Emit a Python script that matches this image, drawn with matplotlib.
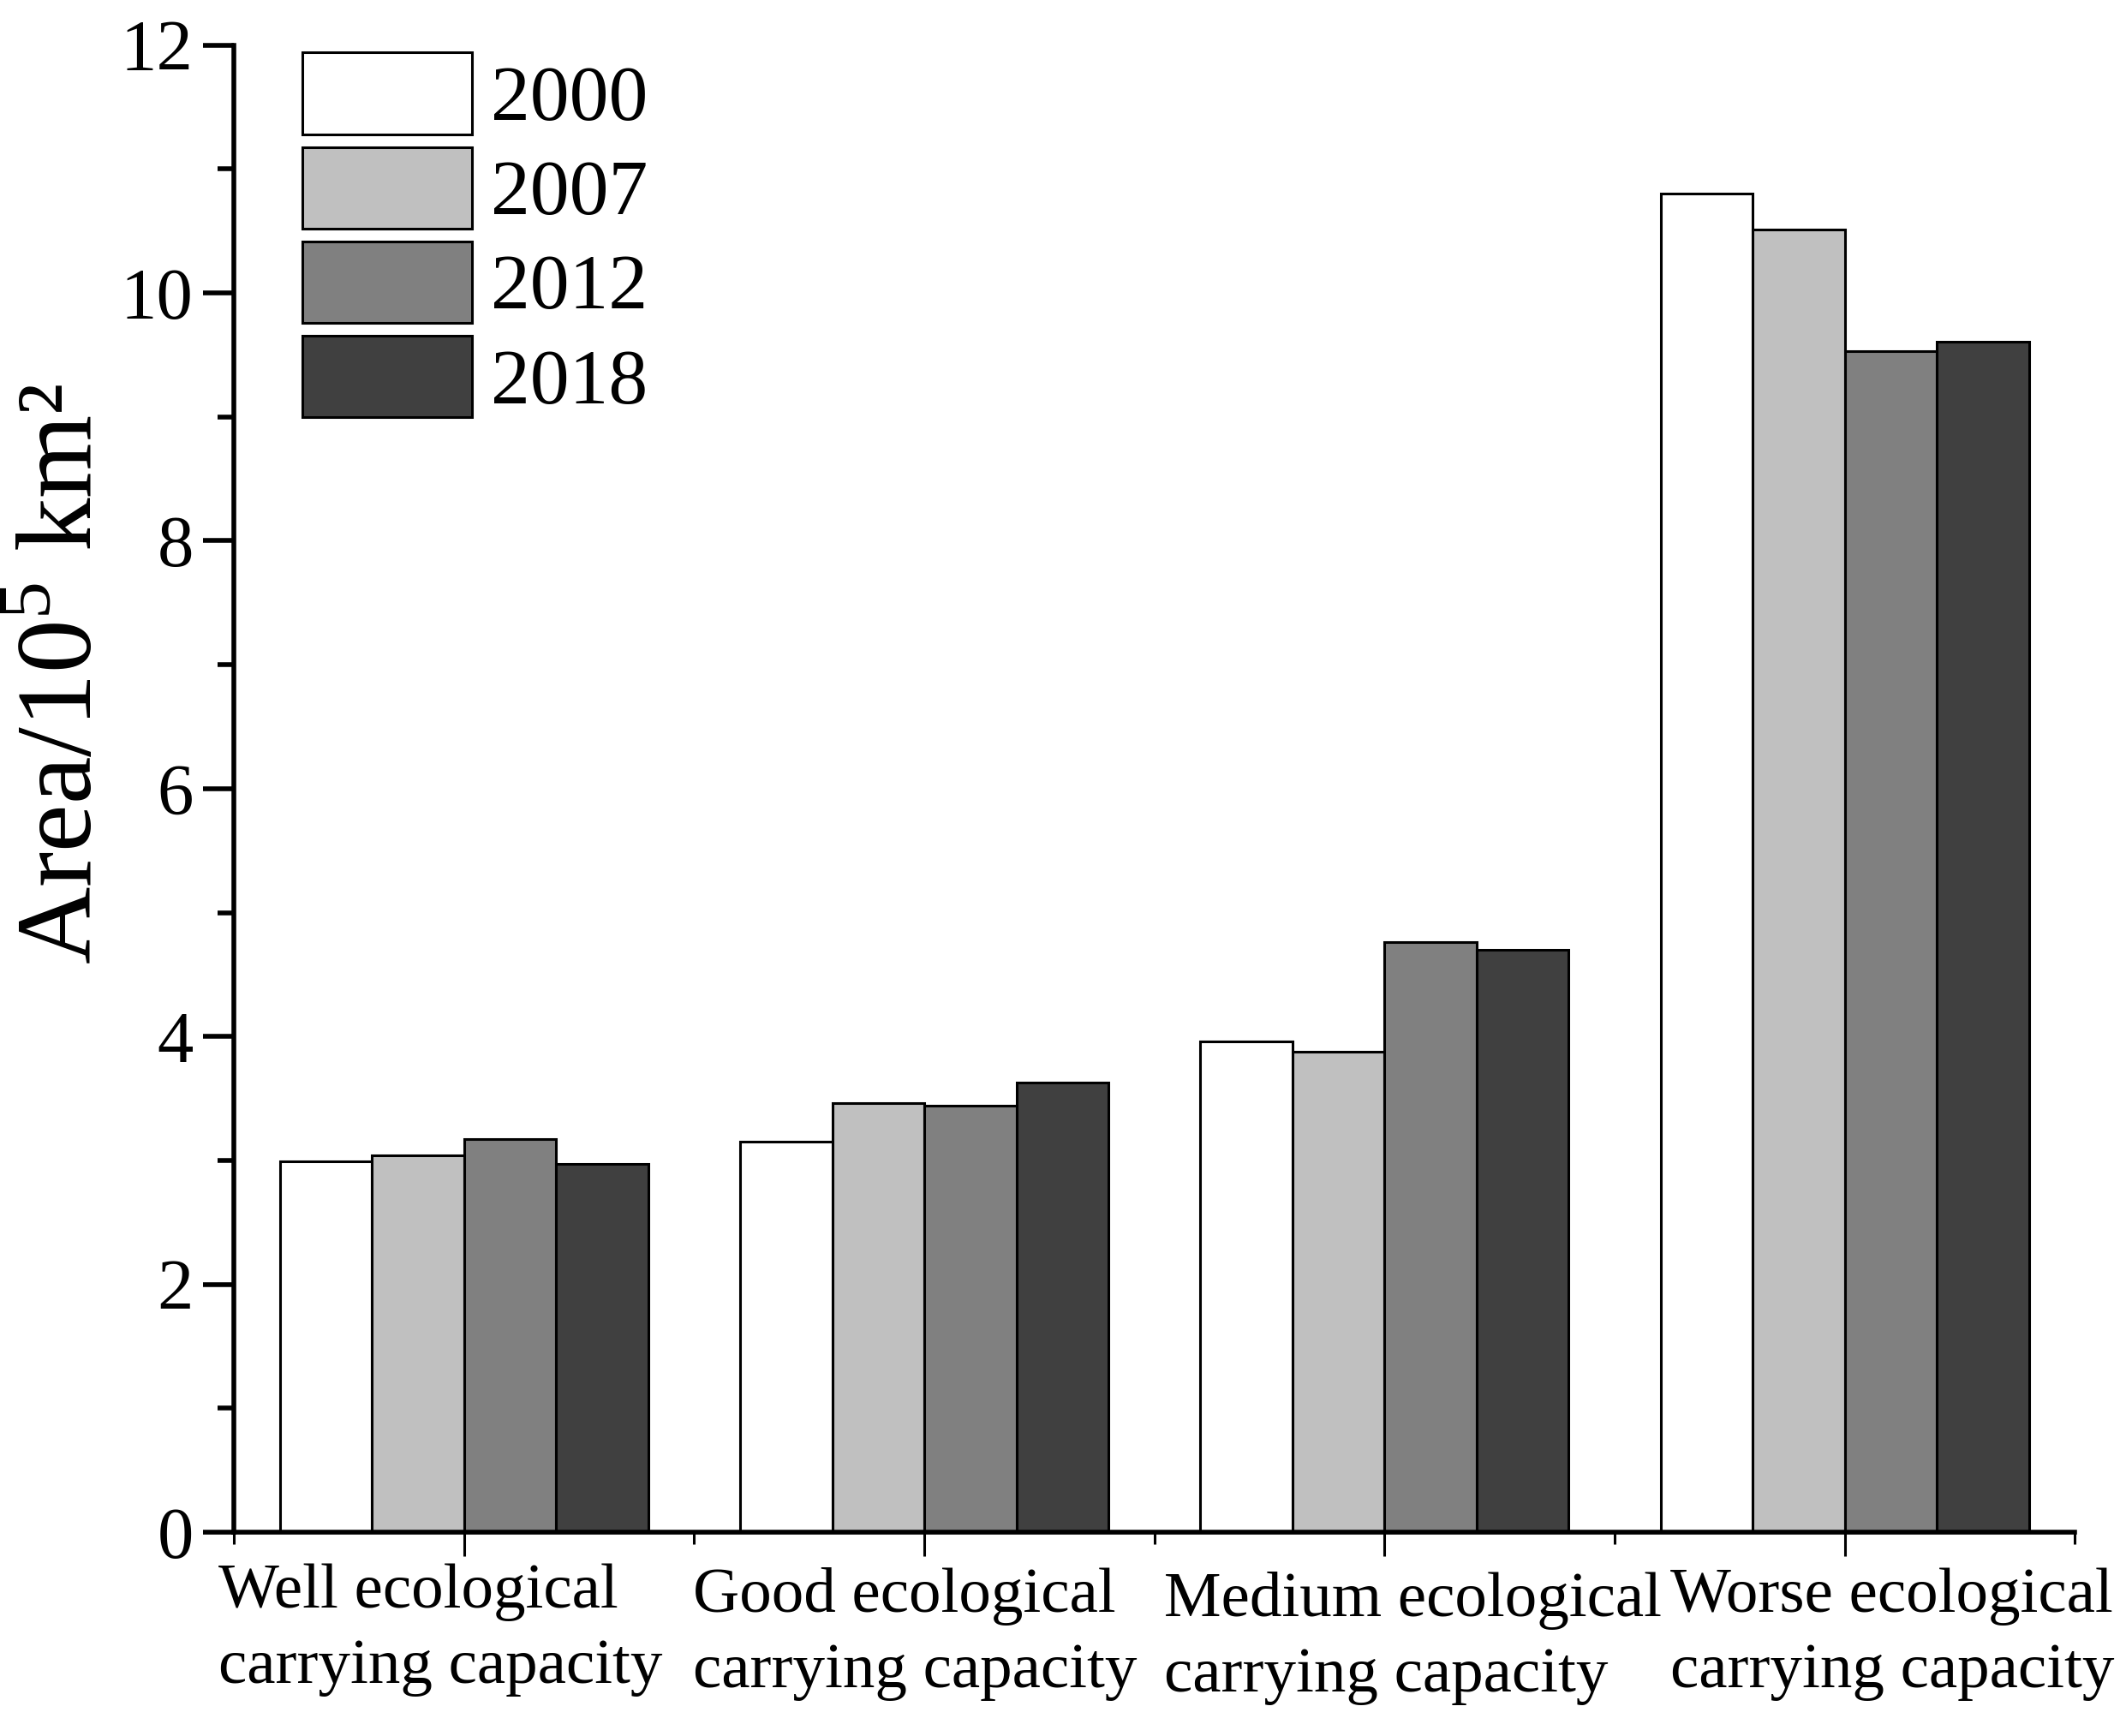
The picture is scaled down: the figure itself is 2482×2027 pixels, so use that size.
import numpy as np
import matplotlib
matplotlib.use("Agg")
import matplotlib.pyplot as plt
from matplotlib.ticker import MultipleLocator
from matplotlib.transforms import ScaledTranslation

# data
categories = ["Well ecological\ncarrying capacity",
              "Good ecological\ncarrying capacity",
              "Medium ecological\ncarrying capacity",
              "Worse ecological\ncarrying capacity"]
years = ["2000", "2007", "2012", "2018"]
v2000 = [2.99, 3.15, 3.96, 10.80]
v2007 = [3.04, 3.46, 3.88, 10.51]
v2012 = [3.17, 3.44, 4.76, 9.53]
v2018 = [2.97, 3.63, 4.70, 9.61]
colors = ["#ffffff", "#c0c0c0", "#808080", "#404040"]

plt.rcParams['font.family'] = ['Liberation Serif', 'DejaVu Serif']
plt.rcParams['mathtext.fontset'] = 'custom'
plt.rcParams['mathtext.rm'] = 'Liberation Serif'

fig = plt.figure(figsize=(24.82, 20.27), dpi=100)
ax = fig.add_axes([0.110, 0.1174, 0.866, 0.8566])

x = np.arange(1, 5)
w = 0.2
series = [v2000, v2007, v2012, v2018]
for i, vals in enumerate(series):
    ax.bar(x + (i - 1.5) * w, vals, width=w, color=colors[i],
           edgecolor="black", linewidth=2.2, label=years[i], zorder=2)

ax.set_xlim(0.5, 4.5)
ax.set_ylim(0, 12)
ax.set_xticks(x)
ax.set_xticklabels(categories, multialignment="left", linespacing=1.4)
ax.xaxis.set_minor_locator(MultipleLocator(1, offset=0.5))
ax.yaxis.set_major_locator(MultipleLocator(2))
ax.yaxis.set_minor_locator(MultipleLocator(1))

for s in ["top", "right"]:
    ax.spines[s].set_visible(False)
ax.spines["left"].set_linewidth(4)
ax.spines["bottom"].set_linewidth(4)

ax.tick_params(axis="both", which="major", direction="out", width=4)
ax.tick_params(axis="x", labelsize=54)
ax.tick_params(axis="y", labelsize=61)
ax.tick_params(axis="y", which="major", length=26, pad=8)
ax.tick_params(axis="y", which="minor", length=14, width=4)
ax.tick_params(axis="x", which="major", length=20, width=2.2, pad=6)
ax.tick_params(axis="x", which="minor", length=10, width=2.2)

# the category labels sit a little off-centre in the original
shift_x = [-0.28, -0.11, 0.33, 0.55]
shift_y = [0.0, -0.05, -0.10, -0.05]
for lab, dx, dy in zip(ax.get_xticklabels(), shift_x, shift_y):
    lab.set_transform(lab.get_transform() + ScaledTranslation(dx, dy, fig.dpi_scale_trans))

ax.set_ylabel("Area/10$^{5}$ km²", fontsize=90)
ax.yaxis.set_label_coords(-0.065, 0.577)

ax.legend(loc="upper left", bbox_to_anchor=(0.037, 0.995), frameon=False,
          fontsize=66, handleheight=1.22, handlelength=2.16, labelspacing=0.14,
          handletextpad=0.25, borderpad=0, borderaxespad=0)

fig.savefig("out.png", dpi=100)
